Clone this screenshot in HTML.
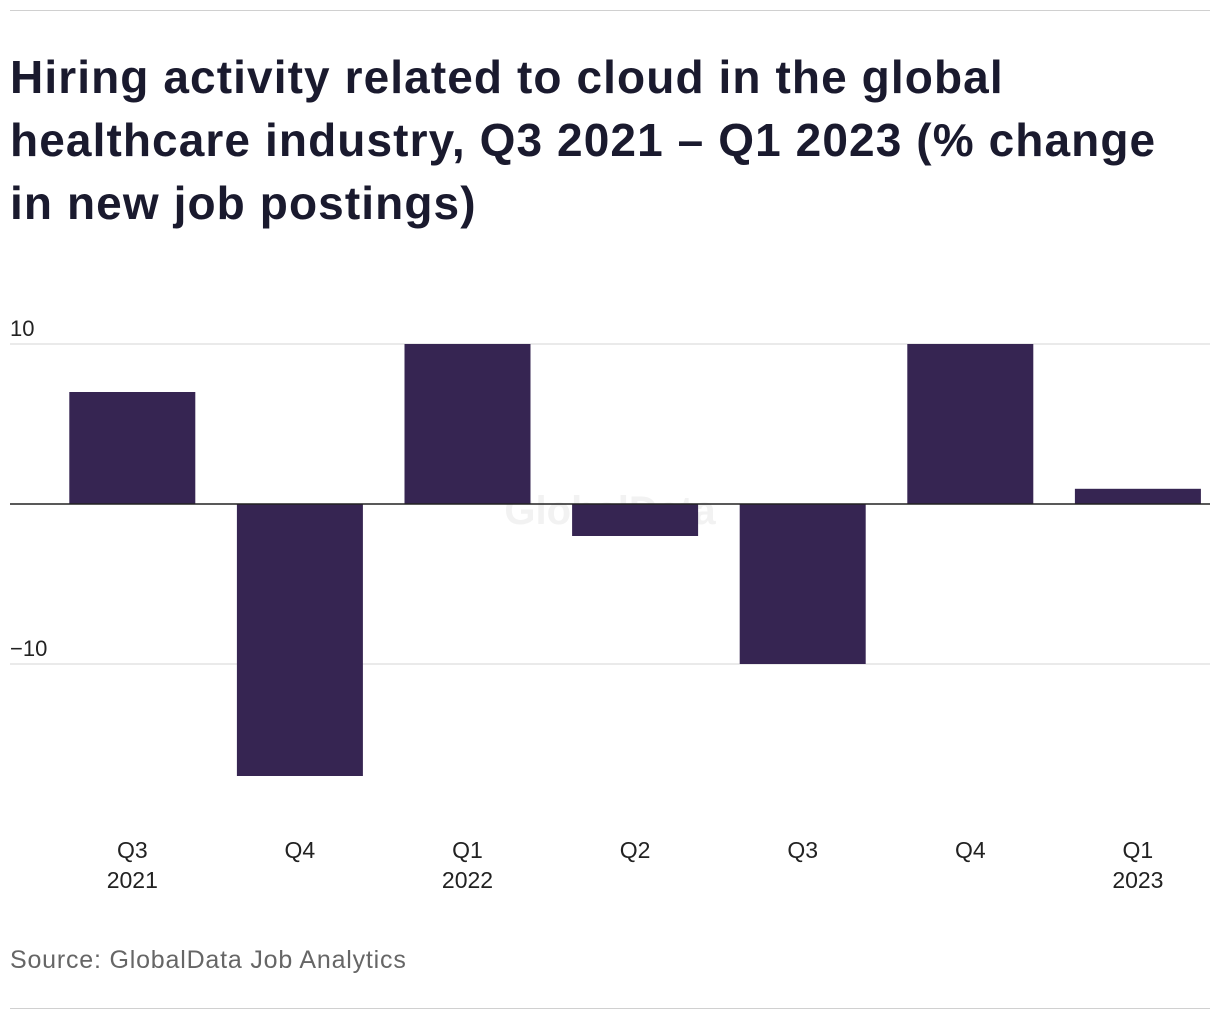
<!DOCTYPE html>
<html><head><meta charset="utf-8"><style>
body{margin:0;background:#fff;font-family:"Liberation Sans",sans-serif;}
#wrap{position:relative;width:1220px;height:1020px;overflow:hidden}
.rule{position:absolute;left:10px;width:1200px;height:1px;background:#d0d0d0}
h1{position:absolute;left:10px;top:46px;margin:0;font-size:46px;line-height:63px;font-weight:bold;color:#1a1a2e;width:1210px;letter-spacing:1.1px;white-space:nowrap}
#src{position:absolute;left:10px;top:946px;font-size:25px;color:#666;letter-spacing:0.8px}
</style></head><body>
<div id="wrap">
<div class="rule" style="top:10px"></div>
<h1>Hiring activity related to cloud in the global<br>healthcare industry, Q3 2021 – Q1 2023 (% change<br>in new job postings)</h1>
<svg id="chart" width="1220" height="1020" style="position:absolute;left:0;top:0"></svg>
<div id="src">Source: GlobalData Job Analytics</div>
<div class="rule" style="top:1008px"></div>
</div>
<script>
const quarters=["Q3","Q4","Q1","Q2","Q3","Q4","Q1"];
const years=["2021","","2022","","","","2023"];
const values=[7,-17,10,-2,-10,10,0.95];
const yTicks=[10,-10];
const yTickLabels=["10","−10"];
const NS="http://www.w3.org/2000/svg";
const svg=document.getElementById('chart');
const y=v=>504-v*16;
const left=48.5,step=167.6,bw=126;
const x=i=>left+step*i+(step-bw)/2;
function mk(t,a){const e=document.createElementNS(NS,t);for(const k in a)e.setAttribute(k,a[k]);svg.appendChild(e);return e;}
yTicks.forEach((t,i)=>{
 const g=mk('line',{x1:10,x2:1210,y1:y(t),y2:y(t),stroke:'#d6d6d6','stroke-width':1});
 
 
 const l=mk('text',{x:10,y:y(t)-8,'font-size':22,fill:'#222','font-family':'Liberation Sans'});
 l.textContent=yTickLabels[i];
 
 
});
const wm=mk('text',{x:610,y:524,'font-size':40,'font-weight':'bold',fill:'#f2f2f2','text-anchor':'middle','font-family':'Liberation Sans'});
wm.textContent='GlobalData';


values.forEach((v,i)=>{
 const r=mk('rect',{x:x(i),width:bw,y:Math.min(y(v),y(0)),height:Math.abs(y(v)-y(0)),fill:'#362552'});
 
 
 const cx=x(i)+bw/2;
 const t=mk('text',{x:cx,y:858,'font-size':23,fill:'#222','text-anchor':'middle','font-family':'Liberation Sans'});
 t.textContent=quarters[i];
 
 
 if(years[i]){const t2=mk('text',{x:cx,y:888,'font-size':23,fill:'#222','text-anchor':'middle','font-family':'Liberation Sans'});
 t2.textContent=years[i];
 
 }
});
const z=mk('line',{x1:10,x2:1210,y1:y(0),y2:y(0),stroke:'#222','stroke-width':1.5});


</script>
</body></html>
